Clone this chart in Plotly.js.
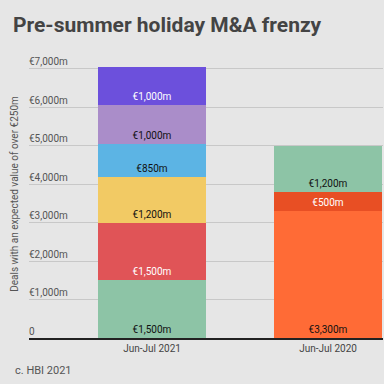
<!DOCTYPE html>
<html>
<head>
<meta charset="utf-8">
<script src="https://cdn.plot.ly/plotly-3.0.1.min.js"></script>
<style>html,body{margin:0;padding:0;background:#e6e6e6;}#chart{width:384px;height:384px;}</style>
</head>
<body>
<div id="chart"></div>
<script>
const periods = ["Jun-Jul 2021", "Jun-Jul 2020"];
// Segments bottom to top
const seg2021 = [1500, 1500, 1200, 850, 1000, 1000];
const seg2020 = [3300, 500, 1200];
const colors2021 = ["#8dc4a6", "#e05457", "#f2ca64", "#5cb4e4", "#aa8dc9", "#6c50dc"];
const textColors2021 = ["#111", "#fff", "#111", "#111", "#111", "#fff"];
const colors2020 = ["#ff6b36", "#e84f24", "#8dc4a6"];
const textColors2020 = ["#111", "#fff", "#111"];
const yTicks = [0, 1000, 2000, 3000, 4000, 5000, 6000, 7000];
const yTickText = ["0", "€1,000m", "€2,000m", "€3,000m", "€4,000m", "€5,000m", "€6,000m", "€7,000m"];

function fmt(v) { return "€" + v.toLocaleString("en-US") + "m"; }

const traces = [];
seg2021.forEach((v, i) => {
  traces.push({
    type: "bar", x: [periods[0]], y: [v], width: 0.614,
    marker: {color: colors2021[i], line: {width: 0}},
    text: [fmt(v)], textposition: "inside", insidetextanchor: "start",
    textfont: {family: "Roboto, sans-serif", size: 10, color: textColors2021[i]},
    textangle: 0, hoverinfo: "skip", showlegend: false
  });
});
seg2020.forEach((v, i) => {
  traces.push({
    type: "bar", x: [periods[1]], y: [v], width: 0.614,
    marker: {color: colors2020[i], line: {width: 0}},
    text: [fmt(v)], textposition: "inside", insidetextanchor: "start",
    textfont: {family: "Roboto, sans-serif", size: 10, color: textColors2020[i]},
    textangle: 0, hoverinfo: "skip", showlegend: false
  });
});

const layout = {
  width: 384, height: 384,
  barmode: "stack",
  paper_bgcolor: "#e6e6e6", plot_bgcolor: "#e6e6e6",
  margin: {l: 29, r: 1, t: 50, b: 46},
  font: {family: "Roboto, sans-serif", color: "#555"},
  title: {
    text: "<b>Pre-summer holiday M&A frenzy</b>",
    font: {family: "Roboto, sans-serif", size: 21, color: "#444"},
    xref: "container", x: 13/384, xanchor: "left",
    yref: "container", y: 1 - 25/384, yanchor: "middle"
  },
  xaxis: {
    type: "category", range: [-0.699, 1.312], fixedrange: true,
    showgrid: false, showline: true, linecolor: "#222", linewidth: 2,
    ticks: "", tickfont: {size: 10, color: "#444"}
  },
  yaxis: {
    range: [0, 7494], tickvals: yTicks, ticktext: yTickText,
    ticklabelposition: "inside", ticklabelshift: -7, ticklabelstandoff: -3,
    tickfont: {size: 10, color: "#555"},
    showgrid: true, gridcolor: "#c8c8c8", gridwidth: 1,
    zeroline: false, showline: false, ticks: "",
    title: {text: "Deals with an expected value of over €250m", font: {size: 10, color: "#555"}, standoff: 8}
  },
  annotations: [{
    text: "c. HBI 2021", xref: "paper", yref: "paper",
    x: (13 - 29) / 354, y: (338 - 370) / 288, xanchor: "left", yanchor: "middle",
    showarrow: false, font: {size: 11, color: "#555"}
  }]
};

Plotly.newPlot("chart", traces, layout, {displayModeBar: false, staticPlot: true});
</script>
</body>
</html>
